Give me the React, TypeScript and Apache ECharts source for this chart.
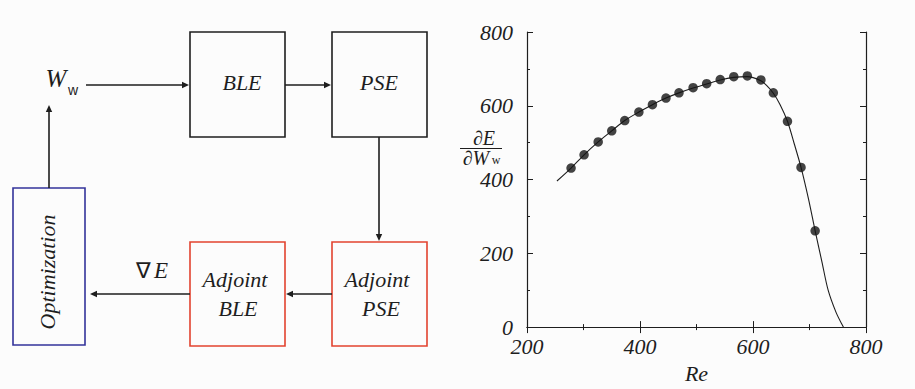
import React, { useEffect, useRef } from "react";
import * as echarts from "echarts";

// Curve (solid line)
const lineRe = [253, 278, 301, 326, 350, 373, 398, 422, 446, 469, 494, 518, 542, 566, 590, 614, 624, 636, 648, 661, 673, 685, 698, 710, 722, 733, 747, 760];
const lineVal = [396, 431, 467, 502, 532, 560, 583, 603, 621, 635, 648, 659, 670, 677, 679, 668, 655, 634, 603, 558, 497, 433, 349, 261, 177, 100, 40, 0];

// Computed points (filled dots)
const dotRe = [278, 301, 326, 350, 373, 398, 422, 446, 469, 494, 518, 542, 566, 590, 614, 636, 661, 685, 710];
const dotVal = [431, 467, 502, 532, 560, 583, 603, 621, 635, 649, 660, 671, 679, 681, 670, 635, 558, 433, 261];

// Axis ticks
const xTicks = [200, 400, 600, 800];
const yTicks = [0, 200, 400, 600, 800];

// Diagram labels
const boxLabels = { ble: "BLE", pse: "PSE", adj: "Adjoint", opt: "Optimization" };

const SERIF = "Liberation Serif";
const SANS = "Liberation Sans";
const INK = "#1e1e1e";
const RED = "#e2432f";
const BLUE = "#33339a";

function arrowHead(tipX: number, tipY: number, dir: "r" | "l" | "u" | "d") {
  const L = 7, W = 3.2;
  let pts: number[][];
  if (dir === "r") pts = [[tipX, tipY], [tipX - L, tipY - W], [tipX - L, tipY + W]];
  else if (dir === "l") pts = [[tipX, tipY], [tipX + L, tipY - W], [tipX + L, tipY + W]];
  else if (dir === "u") pts = [[tipX, tipY], [tipX - W, tipY + L], [tipX + W, tipY + L]];
  else pts = [[tipX, tipY], [tipX - W, tipY - L], [tipX + W, tipY - L]];
  return { type: "polygon", shape: { points: pts }, style: { fill: INK } };
}

function seg(x1: number, y1: number, x2: number, y2: number) {
  return { type: "line", shape: { x1, y1, x2, y2 }, style: { stroke: INK, lineWidth: 1.6 } };
}

function box(x: number, y: number, w: number, h: number, color: string) {
  return { type: "rect", shape: { x, y, width: w, height: h }, style: { fill: "none", stroke: color, lineWidth: 1.6 } };
}

function label(text: string, x: number, y: number, size = 22, italic = true, family = SERIF) {
  return {
    type: "text",
    x, y,
    style: {
      text, fill: INK, fontFamily: family, fontSize: size, fontStyle: italic ? "italic" : "normal",
      align: "center", verticalAlign: "middle",
    },
  };
}

export default function App() {
  const ref = useRef<HTMLDivElement>(null);
  useEffect(() => {
    if (!ref.current) return;
    const chart = echarts.init(ref.current, null, { renderer: "svg" });
    const axisLine = { show: true, lineStyle: { color: INK, width: 1.2 } };
    const tickLabel = { fontFamily: SERIF, fontStyle: "italic" as const, fontSize: 22, color: INK };
    const lineData = lineRe.map((r, i) => [r, lineVal[i]]);
    const dotData = dotRe.map((r, i) => [r, dotVal[i]]);

    const graphics: any[] = [
      // boxes
      box(190, 32, 95, 105, INK),
      box(332, 32, 95, 105, INK),
      box(190, 242, 95, 104, RED),
      box(332, 242, 95, 104, RED),
      box(13, 188, 72, 157, BLUE),
      // box texts
      label(boxLabels.ble, 242, 82),
      label(boxLabels.pse, 379, 82),
      label(boxLabels.adj, 235, 279),
      label(boxLabels.ble, 238, 308),
      label(boxLabels.adj, 377, 279),
      label(boxLabels.pse, 381, 308),
      {
        type: "text",
        x: 47, y: 272, rotation: Math.PI / 2,
        style: {
          text: boxLabels.opt, fill: INK, fontFamily: SERIF, fontSize: 22, fontStyle: "italic",
          align: "center", verticalAlign: "middle",
        },
      },
      // W_w
      label("W", 56, 78, 25),
      label("w", 73, 90, 14, false, SANS),
      // nabla E
      label("∇", 143, 270, 22, false),
      label("E", 161, 270, 23),
      // arrows
      seg(86, 85, 183, 85), arrowHead(189, 85, "r"),
      seg(285, 85, 325, 85), arrowHead(331, 85, "r"),
      seg(379, 137, 379, 235), arrowHead(379, 241, "d"),
      seg(332, 294, 292, 294), arrowHead(286, 294, "l"),
      seg(190, 294, 96, 294), arrowHead(90, 294, "l"),
      seg(49, 188, 49, 111), arrowHead(49, 105, "u"),
      // y axis name as fraction
      label("∂E", 484, 138, 20),
      { type: "line", shape: { x1: 460, y1: 148.5, x2: 502, y2: 148.5 }, style: { stroke: INK, lineWidth: 1 } },
      label("∂W", 476, 158, 20),
      label("w", 496, 160, 12, false),
    ];

    chart.setOption({
      animation: false,
      backgroundColor: "#fcfcfc",
      grid: { left: 527, right: 49, top: 32, bottom: 47, containLabel: false },
      xAxis: [
        {
          type: "value", min: xTicks[0], max: xTicks[xTicks.length - 1], interval: 200, position: "bottom",
          axisLine, splitLine: { show: false },
          axisTick: { show: true, inside: true, length: 6, lineStyle: { color: INK } },
          minorTick: { show: true, splitNumber: 2, length: 3, lineStyle: { color: INK } },
          axisLabel: { ...tickLabel, margin: 8, hideOverlap: false },
          name: "Re", nameLocation: "middle", nameGap: 31,
          nameTextStyle: { fontFamily: SERIF, fontStyle: "italic", fontSize: 22, color: INK },
        },
        {
          type: "value", min: xTicks[0], max: xTicks[xTicks.length - 1], interval: 200, position: "top",
          axisLine, splitLine: { show: false },
          axisTick: { show: true, inside: true, length: 6, lineStyle: { color: INK } },
          minorTick: { show: true, splitNumber: 2, length: 3, lineStyle: { color: INK } },
          axisLabel: { show: false },
        },
      ],
      yAxis: [
        {
          type: "value", min: yTicks[0], max: yTicks[yTicks.length - 1], interval: 200, position: "left",
          axisLine, splitLine: { show: false },
          axisTick: { show: true, inside: true, length: 6, lineStyle: { color: INK } },
          minorTick: { show: true, splitNumber: 2, length: 3, lineStyle: { color: INK } },
          axisLabel: { ...tickLabel, margin: 14, hideOverlap: false },
        },
        {
          type: "value", min: yTicks[0], max: yTicks[yTicks.length - 1], interval: 200, position: "right",
          axisLine, splitLine: { show: false },
          axisTick: { show: true, inside: true, length: 6, lineStyle: { color: INK } },
          minorTick: { show: true, splitNumber: 2, length: 3, lineStyle: { color: INK } },
          axisLabel: { show: false },
        },
      ],
      series: [
        {
          type: "line", xAxisIndex: 0, yAxisIndex: 0, data: lineData, smooth: 0.3,
          showSymbol: false, lineStyle: { color: INK, width: 1.1 }, z: 2,
        },
        {
          type: "scatter", xAxisIndex: 0, yAxisIndex: 0, data: dotData, symbolSize: 9.5,
          itemStyle: { color: "#141414" }, z: 3,
        },
      ],
      graphic: graphics,
    });
    return () => chart.dispose();
  }, []);
  return <div ref={ref} style={{ position: "fixed", left: 0, top: 0, width: 915, height: 389 }} />;
}
